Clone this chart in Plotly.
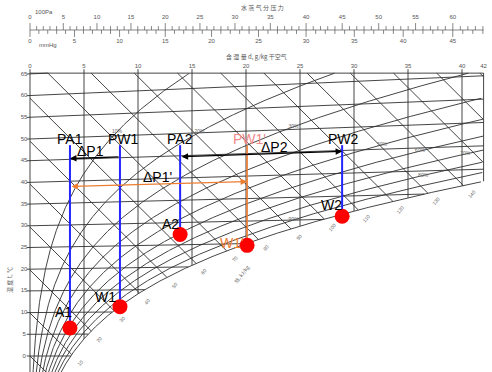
import numpy as np
import plotly.graph_objects as go

# ---------------- data ----------------
B = 101325.0                      # barometric pressure, Pa
temp_levels = [0, 5, 10, 15, 20, 25, 30, 35, 40, 45, 50, 55, 60, 65]      # isotherms, °C
d_levels = [0, 5, 10, 15, 20, 25, 30, 35, 40, 42]                         # moisture content, g/kg
d_tick_labels = ["0", "5", "10", "15", "20", "25", "30", "35", "40", "42"]
h_levels = list(range(0, 180, 10))                                        # enthalpy, kJ/kg
h_label_vals = [10, 20, 30, 40, 50, 60, 70, 80, 90, 100, 110, 120, 130, 140]
rh_levels = [0.1, 0.2, 0.3, 0.4, 0.5, 0.6, 0.7, 0.8, 0.9]
rh_label_pct = [10, 20, 30, 50, 60, 70, 80, 90]
rh_label_d = [8.05, 15.7, 24.4, 32.6, 36.1, 40.3, 36.4, 24.4]
pa_labels = [0, 5, 10, 15, 20, 25, 30, 35, 40, 45, 50, 55, 60]           # x100 Pa
mmhg_labels = [0, 5, 10, 15, 20, 25, 30, 35, 40, 45]                      # mmHg

state_names = ["A1", "W1", "A2", "W1'", "W2"]
state_d = [3.70, 8.33, 13.9, 20.1, 28.9]       # g/kg
state_t = [6.4, 11.2, 27.3, 24.6, 30.6]        # °C
p_names = ["PA1", "PW1", "PA2", "PW1'", "PW2"]
line_colors = ["#2424ff", "#2424ff", "#2424ff", "#ED7D31", "#2424ff"]
p_label_colors = ["black", "black", "black", "#F28A8A", "black"]
state_label_colors = ["black", "black", "black", "#ED7D31", "black"]
P_LEVEL = 48.6                                  # chart ordinate where the P-lines end

dp_names = ["ΔP1", "ΔP2", "ΔP1'"]
dp_from = [1, 2, 0]          # index of state where arrow starts
dp_to = [0, 4, 3]            # index of state where arrow ends
dp_temp = [45.2, 44.8, 38.8]  # isotherm along which the arrow runs
dp_both = [False, True, True]
dp_colors = ["black", "black", "#ED7D31"]
dp_label_d = [5.6, 22.6, 11.85]

# ---------------- chart functions ----------------
Y_TOP = 65.2
D_MAX = 42.0


def ps(t):
    return 610.94 * np.exp(17.625 * t / (t + 243.04))


def t_of_ps(p):
    a = np.log(p / 610.94)
    return 243.04 * a / (17.625 - a)


def d_of_p(p):
    return 622.0 * p / (B - p)


def p_of_d(d):
    return d * B / (622.0 + d)


def cy(t, d):
    return t * (1 + 0.0018218 * d)


def h_of(t, d):
    return 1.01 * t + d * (2.5 + 0.00184 * t)


tgrid = np.arange(-15, 75, 0.02)
dsat_grid = d_of_p(ps(tgrid))
hsat_grid = h_of(tgrid, dsat_grid)


def dsat_at_h(h):
    return float(np.interp(h, hsat_grid, dsat_grid))


GRID = "#303030"
fig = go.Figure()


def add_lines(xs, ys, color=GRID, width=0.9):
    fig.add_trace(go.Scatter(x=xs, y=ys, mode="lines", line=dict(color=color, width=width),
                             hoverinfo="skip"))


# isotherms
xs, ys = [], []
for t in temp_levels:
    dend = min(float(d_of_p(ps(t))), D_MAX)
    if t > 0:
        dend = min(dend, (Y_TOP / t - 1) / 0.0018218)
    dd = np.array([-0.3, dend])
    xs += list(dd) + [None]
    ys += list(cy(t, np.maximum(dd, 0)) if t else [0, 0]) + [None]
add_lines(xs, ys)

# constant moisture lines
xs, ys = [], []
for d in d_levels:
    if d == 0:
        ybot = -8
    else:
        ts = float(t_of_ps(p_of_d(d)))
        ybot = cy(ts, d)
    top = Y_TOP + (0.9 if d != D_MAX else 0)
    xs += [d, d, None]
    ys += [top, ybot, None]
xs += [0, D_MAX, None]
ys += [Y_TOP, Y_TOP, None]
add_lines(xs, ys)

# enthalpy lines
xs, ys = [], []
for h in h_levels:
    ds = max(0.0, (h - 1.01 * Y_TOP) / 2.5)
    de = min(dsat_at_h(h), D_MAX)
    if de <= ds:
        continue
    dd = np.array([ds, de])
    xs += list(dd) + [None]
    ys += list((h - 2.5 * dd) / 1.01) + [None]
add_lines(xs, ys)

# relative humidity curves + saturation
xs, ys = [], []
for phi in rh_levels + [1.0]:
    tt = np.arange(-15, 75, 0.1)
    dd = d_of_p(phi * ps(tt))
    yy = cy(tt, dd)
    m = (dd <= D_MAX) & (yy <= Y_TOP)
    xs += list(dd[m]) + [None]
    ys += list(yy[m]) + [None]
add_lines(xs, ys, width=0.9)

# ---------------- labels of the chart ----------------
small = dict(family="Liberation Sans Narrow, Liberation Sans, Arial", size=6, color="#555555")
fig.add_trace(go.Scatter(x=[-0.55] * len(temp_levels), y=temp_levels, mode="text",
                         text=[str(t) for t in temp_levels], textfont=small, hoverinfo="skip"))
fig.add_trace(go.Scatter(x=d_levels, y=[Y_TOP + 1.55] * len(d_levels), mode="text",
                         text=d_tick_labels, textfont=small, hoverinfo="skip"))
rl_y = []
for pct, d in zip(rh_label_pct, rh_label_d):
    ts = float(t_of_ps(p_of_d(d) / (pct / 100)))
    rl_y.append(cy(ts, d))
fig.add_trace(go.Scatter(x=rh_label_d, y=rl_y, mode="text", text=[f"{p}%" for p in rh_label_pct],
                         textfont=dict(family="Liberation Sans Narrow, Liberation Sans", size=5,
                                       color="#666666"), hoverinfo="skip"))

annotations = []
for h in h_label_vals:
    d = dsat_at_h(h) + 0.75
    annotations.append(dict(x=d, y=(h - 2.5 * d) / 1.01, text=str(h), showarrow=False,
                            textangle=-50, font=dict(size=5, color="#666666",
                                                     family="Liberation Sans Narrow, Liberation Sans")))
annotations.append(dict(x=19.6, y=19.0, text="焓, kJ/kg", showarrow=False, textangle=-52,
                        font=dict(size=5, color="#666666", family="Noto Sans CJK SC")))
annotations.append(dict(x=-1.95, y=17.5, text="温 度 t, ℃", showarrow=False, textangle=-90,
                        font=dict(size=6, color="#666666", family="Noto Sans CJK SC")))
annotations.append(dict(x=21.0, y=69.1, text="含 湿 量 d, g/kg 干空气", showarrow=False,
                        font=dict(size=6, color="#555555", family="Noto Sans CJK SC")))
annotations.append(dict(x=21.5, y=80.3, text="水 蒸 气 分 压 力", showarrow=False,
                        font=dict(size=6, color="#555555", family="Noto Sans CJK SC")))
annotations.append(dict(x=1.25, y=79.2, text="100Pa", showarrow=False, font=small))
annotations.append(dict(x=1.7, y=71.8, text="mmHg", showarrow=False, font=small))

# pressure scale
Y_SC = 75.14
xs, ys = [0, D_MAX, None], [Y_SC, Y_SC, None]
for p in range(0, 65):
    x = float(d_of_p(p * 100.0))
    L = 1.6 if p % 5 == 0 else 0.9
    xs += [x, x, None]
    ys += [Y_SC, Y_SC + L, None]
for mm in range(0, 49):
    x = float(d_of_p(mm * 133.322))
    L = 1.6 if mm % 5 == 0 else 0.9
    xs += [x, x, None]
    ys += [Y_SC, Y_SC - L, None]
add_lines(xs, ys, color="#555555", width=0.7)
fig.add_trace(go.Scatter(x=[float(d_of_p(p * 100.0)) for p in pa_labels], y=[78.1] * len(pa_labels),
                         mode="text", text=[str(p) for p in pa_labels], textfont=small, hoverinfo="skip"))
fig.add_trace(go.Scatter(x=[float(d_of_p(m * 133.322)) for m in mmhg_labels], y=[72.4] * len(mmhg_labels),
                         mode="text", text=[str(m) for m in mmhg_labels], textfont=small, hoverinfo="skip"))

# ---------------- process overlay ----------------
state_y = [cy(t, d) for t, d in zip(state_t, state_d)]
for i in range(len(state_names)):
    fig.add_trace(go.Scatter(x=[state_d[i], state_d[i]], y=[state_y[i], P_LEVEL], mode="lines",
                             line=dict(color=line_colors[i], width=2 if i != 3 else 1.6),
                             hoverinfo="skip"))
fig.add_trace(go.Scatter(x=state_d, y=state_y, mode="markers",
                         marker=dict(size=15, color="#ff0000"), hoverinfo="skip"))

big = "Liberation Sans Narrow, Arial Narrow, Liberation Sans, Arial"
p_xshift = [0, 4, 0, 2, 1]
for i, nm in enumerate(p_names):
    annotations.append(dict(x=state_d[i], y=P_LEVEL, text=nm, showarrow=False, yanchor="bottom",
                            yshift=-4, xshift=p_xshift[i],
                            font=dict(family=big, size=14, color=p_label_colors[i])))

label_shift = [(-6, 16), (-14, 10), (-10, 11), (-15, 2), (-11, 11)]
for i, nm in enumerate(state_names):
    annotations.append(dict(x=state_d[i], y=state_y[i], text=nm, showarrow=False,
                            xshift=label_shift[i][0], yshift=label_shift[i][1],
                            font=dict(family=big, size=14, color=state_label_colors[i])))

for k, nm in enumerate(dp_names):
    d0, d1 = state_d[dp_from[k]], state_d[dp_to[k]]
    t = dp_temp[k]
    annotations.append(dict(x=d1, y=cy(t, d1), ax=d0, ay=cy(t, d0), xref="x", yref="y",
                            axref="x", ayref="y", text="", showarrow=True, arrowhead=2,
                            arrowsize=1, arrowwidth=1.3, arrowcolor=dp_colors[k], standoff=0,
                            startstandoff=0, arrowside="end+start" if dp_both[k] else "end",
                            startarrowhead=2, startarrowsize=1))
    dl = dp_label_d[k]
    annotations.append(dict(x=dl, y=cy(t, dl), text=nm, showarrow=False, yanchor="bottom",
                            yshift=-3, font=dict(family=big, size=14, color="black")))

PX_X, PX_Y = 10.8, 4.3385
fig.update_layout(
    width=492, height=372, margin=dict(l=0, r=0, t=0, b=0),
    paper_bgcolor="white", plot_bgcolor="white", showlegend=False,
    xaxis=dict(range=[-30 / PX_X, (492 - 30) / PX_X], visible=False, fixedrange=True),
    yaxis=dict(range=[(356 - 372) / PX_Y, 356 / PX_Y], visible=False, fixedrange=True),
    annotations=annotations,
)
fig.write_html("out.html", config={"displayModeBar": False},
               post_script="document.body.style.margin='0';")
